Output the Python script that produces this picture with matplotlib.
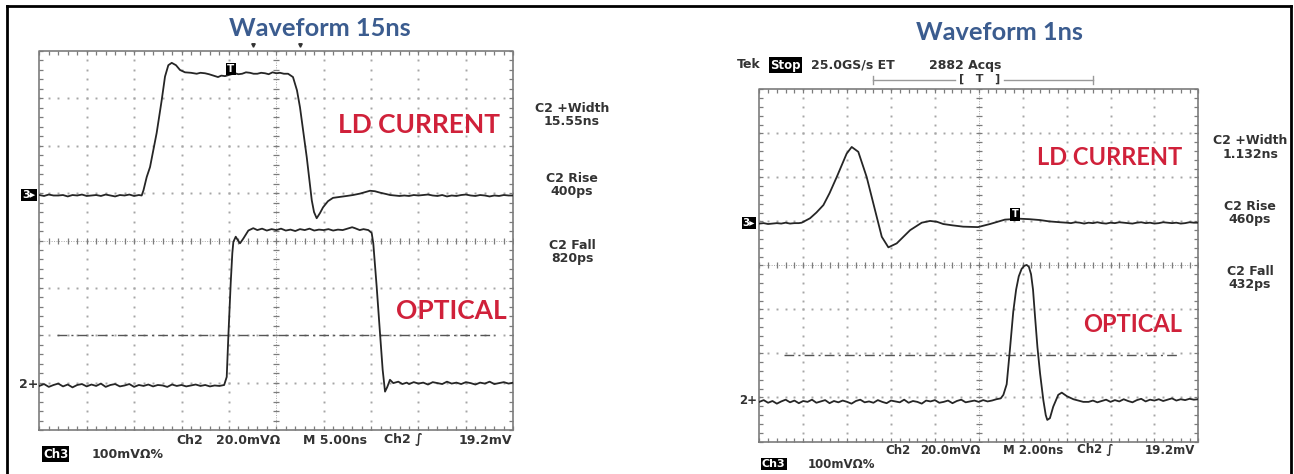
import numpy as np
import matplotlib
matplotlib.use("Agg")
import matplotlib.pyplot as plt
from matplotlib.lines import Line2D

W, H = 1294, 474

# ---- data (time in ns, level in screen divisions, 0 = bottom line) ----
# 15 ns pulse, 5 ns/div, record step 0.5 ns for the flat parts
ld15_lead = [4.96, 4.94, 4.97, 4.95, 4.95, 4.96, 4.93, 4.96, 4.95, 4.97,
             4.94, 4.95, 4.96, 4.94, 4.97, 4.95, 4.93, 4.96, 4.95, 4.97,
             4.94, 4.96]
ld15_edge = [(10.8, 4.95), (10.99, 5.06), (11.33, 5.34), (11.68, 5.55), (12.38, 6.27),
             (12.91, 6.96), (13.26, 7.46), (13.61, 7.70), (13.97, 7.75), (14.42, 7.70),
             (14.84, 7.60), (15.37, 7.55), (16.0, 7.54), (16.6, 7.52), (17.0, 7.54),
             (17.48, 7.53), (17.9, 7.51), (18.22, 7.49), (18.85, 7.45), (19.2, 7.48),
             (19.59, 7.47), (20.1, 7.50), (20.64, 7.53), (21.0, 7.51), (21.4, 7.52),
             (21.8, 7.55), (22.22, 7.54), (22.6, 7.52), (23.0, 7.52), (23.4, 7.54),
             (23.81, 7.53), (24.2, 7.51), (24.6, 7.55), (25.0, 7.53), (25.39, 7.54),
             (25.8, 7.52), (26.24, 7.52), (26.76, 7.45), (27.18, 7.17), (27.5, 6.81),
             (28.21, 5.76), (28.74, 4.85), (28.98, 4.60), (29.26, 4.47), (29.61, 4.58),
             (29.93, 4.70), (30.45, 4.83), (30.98, 4.90), (31.7, 4.92), (32.43, 4.94),
             (33.1, 4.96), (33.83, 4.99), (34.88, 5.05), (35.4, 5.04), (35.94, 5.01),
             (36.6, 4.98)]
ld15_tail = [4.96, 4.95, 4.94, 4.95, 4.94, 4.96, 4.95, 4.96, 4.97, 4.95,
             4.94, 4.96, 4.93, 4.95, 4.94, 4.96, 4.97, 4.95, 4.94, 4.96,
             4.95, 4.93, 4.95, 4.94, 4.96, 4.95, 4.95]

opt15_lead = [0.93, 0.97, 0.91, 0.95, 0.98, 0.92, 0.96, 0.90, 0.95, 0.97,
              0.92, 0.96, 0.93, 0.98, 0.91, 0.95, 0.97, 0.92, 0.94, 0.97,
              0.91, 0.95, 0.93, 0.96, 0.92, 0.95, 0.94, 0.91, 0.96, 0.93,
              0.95, 0.92, 0.94, 0.96, 0.93, 0.95, 0.92, 0.94, 0.93, 0.95]
opt15_edge = [(19.77, 1.12), (19.94, 1.97), (20.19, 3.10), (20.36, 3.73), (20.47, 3.97),
              (20.72, 4.08), (20.93, 4.01), (21.17, 3.94), (21.52, 4.04), (22.05, 4.21),
              (22.57, 4.26), (23.0, 4.22), (23.5, 4.25), (24.0, 4.21), (24.5, 4.24),
              (25.0, 4.22), (25.5, 4.25), (26.0, 4.21), (26.5, 4.23), (27.0, 4.20),
              (27.5, 4.24), (28.0, 4.22), (28.5, 4.25), (29.0, 4.21), (29.5, 4.23),
              (30.0, 4.22), (30.5, 4.24), (31.0, 4.21), (31.5, 4.23), (32.0, 4.22),
              (32.5, 4.25), (33.0, 4.28), (33.3, 4.26), (33.8, 4.22), (34.2, 4.24),
              (34.71, 4.22), (35.06, 4.16), (35.23, 3.94), (35.59, 3.02), (35.94, 2.04),
              (36.22, 1.27), (36.47, 0.81), (36.71, 0.91), (36.99, 1.06), (37.34, 0.99),
              (37.87, 1.02), (38.3, 0.97), (38.76, 1.00)]
opt15_tail = [0.97, 1.01, 0.98, 1.00, 0.96, 1.01, 0.99, 0.97, 1.02, 0.98,
              1.00, 0.97, 1.01, 0.99, 0.96, 1.00, 0.98, 1.02, 0.97, 0.99,
              1.01, 0.98, 1.00]

# 1 ns pulse, 2 ns/div, record step 0.2 ns for the flat parts
ld1_lead = [4.95, 4.96, 4.94, 4.95, 4.96, 4.95, 4.97, 4.95, 4.96, 4.96]
ld1_edge = [(1.93, 4.97), (2.31, 5.07), (2.6, 5.20), (2.92, 5.37), (3.2, 5.64),
            (3.53, 6.01), (3.98, 6.54), (4.21, 6.69), (4.51, 6.58), (4.89, 6.01),
            (5.27, 5.26), (5.58, 4.65), (5.88, 4.41), (6.26, 4.50), (6.87, 4.80),
            (7.4, 4.97), (7.78, 5.01), (8.1, 4.99), (8.38, 4.94), (8.8, 4.91),
            (9.29, 4.88), (9.96, 4.87), (10.51, 4.94), (11.19, 5.04), (11.88, 5.06),
            (12.3, 5.05), (12.79, 5.03), (13.2, 5.00), (13.7, 4.98)]
ld1_tail = [4.97, 4.96, 4.98, 4.97, 4.95, 4.97, 4.96, 4.98, 4.96, 4.95,
            4.97, 4.96, 4.98, 4.97, 4.96, 4.95, 4.97, 4.98, 4.96, 4.97,
            4.95, 4.96, 4.98, 4.97, 4.96, 4.97, 4.95, 4.96, 4.98, 4.97,
            4.97]

opt1_lead = [0.90, 0.94, 0.88, 0.92, 0.86, 0.91, 0.95, 0.89, 0.93, 0.87,
             0.92, 0.90, 0.95, 0.88, 0.91, 0.94, 0.87, 0.92, 0.89, 0.93,
             0.90, 0.86, 0.92, 0.95, 0.89, 0.91, 0.88, 0.94, 0.90, 0.87,
             0.93, 0.91, 0.89, 0.95, 0.88, 0.92, 0.90, 0.86, 0.93, 0.91,
             0.94, 0.88, 0.90, 0.93, 0.87, 0.92, 0.95, 0.89, 0.91, 0.93,
             0.90, 0.94, 0.91, 0.93, 0.96, 0.98]
opt1_edge = [(11.12, 1.06), (11.27, 1.30), (11.42, 2.10), (11.57, 2.95), (11.70, 3.45),
             (11.82, 3.75), (11.95, 3.92), (12.07, 3.99), (12.18, 4.01), (12.28, 3.97),
             (12.38, 3.80), (12.47, 3.45), (12.56, 2.85), (12.67, 2.15), (12.79, 1.55),
             (12.94, 0.94), (13.05, 0.60), (13.12, 0.49), (13.24, 0.53), (13.39, 0.79),
             (13.62, 1.06), (13.78, 1.11), (14.01, 1.03), (14.31, 0.96), (14.76, 0.90)]
opt1_tail = [0.90, 0.93, 0.89, 0.92, 0.95, 0.90, 0.94, 0.91, 0.96, 0.92,
             0.89, 0.94, 0.97, 0.91, 0.95, 0.93, 0.96, 0.92, 0.95, 0.98,
             0.93, 0.96, 0.94, 0.97, 0.95, 0.96]

measure_15 = ["C2 +Width\n15.55ns", "C2 Rise\n400ps", "C2 Fall\n820ps"]
measure_1 = ["C2 +Width\n1.132ns", "C2 Rise\n460ps", "C2 Fall\n432ps"]

TRACE = "#262626"
GRID = "#a6a6a6"
FRAME = "#7c7c7c"
TITLE_BLUE = "#3b5c8f"
RED = "#d0213a"
TEXT = "#333333"
SCOPE_FONT = "DejaVu Sans"
LABEL_FONT = "Lato"


def fx(px):
    return px / W


def fy(py):
    return 1 - py / H


def graticule(ax, span):
    dx = span / 10
    ax.set_xlim(0, span)
    ax.set_ylim(0, 8)
    ax.axis("off")
    fine_x = np.arange(51) * dx / 5
    fine_y = np.arange(41) * 0.2
    for i in range(1, 10):
        if i != 5:
            ax.plot(np.full_like(fine_y, i * dx), fine_y, ls="none", marker="s",
                    ms=1.4, color=GRID, mew=0)
    for j in range(1, 8):
        if j != 4:
            ax.plot(fine_x, np.full_like(fine_x, j), ls="none", marker="s",
                    ms=1.4, color=GRID, mew=0)
    # centre cross-hair with small ticks
    ax.plot([5 * dx, 5 * dx], [0, 8], color=GRID, lw=0.7, ls=(0, (1, 1.5)))
    ax.plot([0, span], [4, 4], color=GRID, lw=0.7, ls=(0, (1, 1.5)))
    ax.plot(np.full_like(fine_y, 5 * dx), fine_y, ls="none", marker="_", ms=4,
            mew=0.9, color=FRAME)
    ax.plot(fine_x, np.full_like(fine_x, 4), ls="none", marker="|", ms=4,
            mew=0.9, color=FRAME)
    # frame and edge ticks
    ax.plot([0, span, span, 0, 0], [0, 0, 8, 8, 0], color=FRAME, lw=1.2, clip_on=False)
    kw = dict(ls="none", ms=3, mew=0.9, color=FRAME, clip_on=False)
    ax.plot(np.zeros_like(fine_y), fine_y, marker=1, **kw)
    ax.plot(np.full_like(fine_y, span), fine_y, marker=0, **kw)
    ax.plot(fine_x, np.zeros_like(fine_x), marker=2, **kw)
    ax.plot(fine_x, np.full_like(fine_x, 8), marker=3, **kw)


def trace(ax, lead, edge, tail, step, tail_start):
    t = np.concatenate([np.arange(len(lead)) * step,
                        [p[0] for p in edge],
                        tail_start + np.arange(len(tail)) * step])
    v = np.concatenate([lead, [p[1] for p in edge], tail])
    ax.plot(t, v, color=TRACE, lw=1.3, solid_joinstyle="round")


def black_tag(x, y, s, size, ha="center"):
    fig.text(fx(x), fy(y), s, family=SCOPE_FONT, fontsize=size, color="white",
             fontweight="bold", ha=ha, va="center",
             bbox=dict(facecolor="black", edgecolor="none", pad=0.8))


def scope_text(x, y, s, size=9, ha="left"):
    fig.text(fx(x), fy(y), s, family=SCOPE_FONT, fontsize=size, color=TEXT,
             fontweight="bold", ha=ha, va="center", linespacing=1.0)


fig = plt.figure(figsize=(W / 100, H / 100), dpi=100)
fig.patch.set_facecolor("white")

# outer frame
fig.add_artist(Line2D([fx(6.5), fx(6.5)], [fy(5.5), -0.01], color="black", lw=2))
fig.add_artist(Line2D([fx(6.5), fx(1290.5)], [fy(5.5), fy(5.5)], color="black", lw=2))
fig.add_artist(Line2D([fx(1290.5), fx(1290.5)], [fy(5.5), -0.01], color="black", lw=2))

# ---------------- left scope: 15 ns ----------------
axl = fig.add_axes([fx(39.3), fy(430), 474 / W, 379 / H])
graticule(axl, 50)
axl.plot([1.87, 48.07], [2, 2], color="#555555", lw=1.0, ls=(0, (7, 3, 1.5, 3)))
trace(axl, ld15_lead, ld15_edge, ld15_tail, 0.5, 37.0)
trace(axl, opt15_lead, opt15_edge, opt15_tail, 0.5, 39.0)
axl.text(20.22, 7.62, "T", color="white", fontsize=7.5, ha="center", va="center",
         fontweight="bold", family=SCOPE_FONT,
         bbox=dict(facecolor="black", edgecolor="none", pad=0.9))

fig.text(fx(320), fy(28), "Waveform 15ns", family=LABEL_FONT, fontweight="bold",
         fontsize=18.3, color=TITLE_BLUE, ha="center", va="center")
fig.text(fx(419), fy(125), "LD CURRENT", family=LABEL_FONT, fontweight="bold",
         fontsize=19, color=RED, ha="center", va="center")
fig.text(fx(451), fy(311), "OPTICAL", family=LABEL_FONT, fontweight="bold",
         fontsize=19, color=RED, ha="center", va="center")
for txt, yy in zip(measure_15, [115, 185.5, 252]):
    scope_text(572, yy, txt, ha="center")
for px, py in [(252.7, 45), (300, 45)]:
    fig.add_artist(Line2D([fx(px)], [fy(py)], marker="v", ms=2.5, color=TEXT))

black_tag(29, 195, "3\u25b8", 8)
scope_text(29, 384, "2+", ha="center")

for txt, px in [("Ch2", 176), ("20.0mV\u03a9", 216), ("M 5.00ns", 303), ("Ch2 \u222b", 384)]:
    scope_text(px, 440, txt)
scope_text(512, 440, "19.2mV", ha="right")
black_tag(43, 454, "Ch3", 8.5, ha="left")
scope_text(92, 454, "100mV\u03a9%")

# ---------------- right scope: 1 ns ----------------
axr = fig.add_axes([fx(759.3), fy(441.5), 439 / W, 352.2 / H])
graticule(axr, 20)
axr.plot([1.12, 19.03], [1.96, 1.96], color="#555555", lw=1.0, ls=(0, (7, 3, 1.5, 3)))
trace(axr, ld1_lead, ld1_edge, ld1_tail, 0.2, 14.0)
trace(axr, opt1_lead, opt1_edge, opt1_tail, 0.2, 15.0)
axr.text(11.65, 5.16, "T", color="white", fontsize=7, ha="center", va="center",
         fontweight="bold", family=SCOPE_FONT,
         bbox=dict(facecolor="black", edgecolor="none", pad=0.9))

fig.text(fx(1000), fy(33), "Waveform 1ns", family=LABEL_FONT, fontweight="bold",
         fontsize=18.3, color=TITLE_BLUE, ha="center", va="center")
fig.text(fx(1110), fy(158), "LD CURRENT", family=LABEL_FONT, fontweight="bold",
         fontsize=17, color=RED, ha="center", va="center")
fig.text(fx(1133), fy(325), "OPTICAL", family=LABEL_FONT, fontweight="bold",
         fontsize=17, color=RED, ha="center", va="center")
for txt, yy in zip(measure_1, [147.5, 213.5, 278]):
    scope_text(1250, yy, txt, ha="center")

scope_text(737, 65, "Tek")
black_tag(770, 65, "Stop", 8.5, ha="left")
scope_text(811, 65, "25.0GS/s ET")
scope_text(929, 65, "2882 Acqs")
fig.add_artist(Line2D([fx(873), fx(955)], [fy(80), fy(80)], color="#999999", lw=1))
fig.add_artist(Line2D([fx(1004), fx(1093)], [fy(80), fy(80)], color="#999999", lw=1))
for px in (873, 1093):
    fig.add_artist(Line2D([fx(px), fx(px)], [fy(76), fy(84)], color="#999999", lw=1))
scope_text(980, 79, "[   T   ]", size=8, ha="center")

black_tag(749, 223, "3\u25b8", 7.5)
scope_text(748, 401, "2+", size=8.5, ha="center")

for txt, px in [("Ch2", 885), ("20.0mV\u03a9", 920), ("M 2.00ns", 1003), ("Ch2 \u222b", 1077)]:
    scope_text(px, 450, txt, size=8.5)
scope_text(1195, 450, "19.2mV", size=8.5, ha="right")
black_tag(762, 464, "Ch3", 8, ha="left")
scope_text(808, 464, "100mV\u03a9%", size=8.5)

fig.savefig("out.png", dpi=100, facecolor="white")
